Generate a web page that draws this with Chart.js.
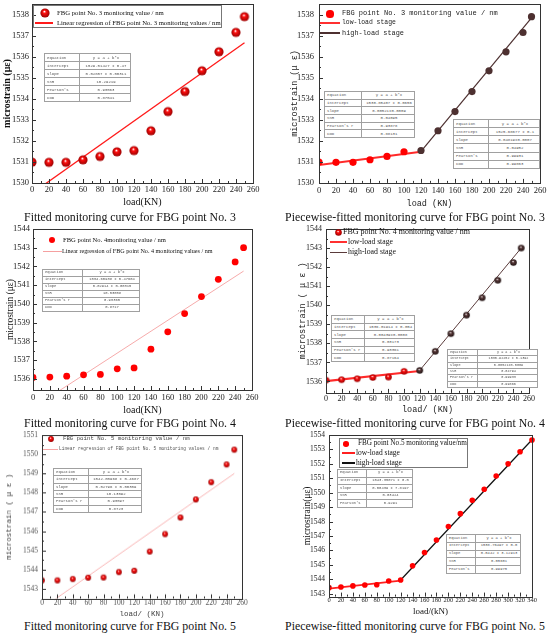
<!DOCTYPE html>
<html>
<head>
<meta charset="utf-8">
<script src="https://cdn.jsdelivr.net/npm/chart.js@4.4.1/dist/chart.umd.min.js"></script>
<style>
  body { margin: 0; width: 550px; height: 638px; position: relative; overflow: hidden; background: #fff; }
  canvas { position: absolute; }
  .lab { position: absolute; white-space: nowrap; line-height: 1; transform: translateY(-50%); }
  .cap { position: absolute; white-space: nowrap; line-height: 1; transform: translate(-50%, -50%);
         font-family: "Liberation Serif", serif; color: #111; font-size: 12.5px; }
  .mk { position: absolute; }
  table.fit { position: absolute; border-collapse: collapse; table-layout: fixed; background: #fff; color: #555; }
  table.fit td { border: 1px solid #a0a0a0; padding: 0 0 0 2px; white-space: nowrap; overflow: hidden; line-height: 1; }
</style>
</head>
<body>
<canvas id="c1"></canvas>
<canvas id="c2"></canvas>
<canvas id="c3"></canvas>
<canvas id="c4"></canvas>
<canvas id="c5"></canvas>
<canvas id="c6"></canvas>
<script>
// load steps (kN)
const loadSteps = [0, 20, 40, 60, 80, 100, 120, 140, 160, 180, 200, 220, 240, 250];
const loadSteps340 = [0, 20, 40, 60, 80, 100, 120, 140, 160, 180, 200, 220, 240, 260, 280, 300, 320, 340];

const strainNo3 = [1530.99, 1530.98, 1530.98, 1531.10, 1531.26, 1531.48, 1531.54, 1532.48, 1533.39, 1534.34, 1535.33, 1536.23, 1537.15, 1537.90];
const strainNo4 = [1536.07, 1536.09, 1536.14, 1536.21, 1536.23, 1536.53, 1536.58, 1537.58, 1538.51, 1539.48, 1540.39, 1541.31, 1542.24, 1543.00];
const strainNo5 = [1543.44, 1543.44, 1543.51, 1543.58, 1543.59, 1543.87, 1543.94, 1544.94, 1545.85, 1546.71, 1547.65, 1548.55, 1549.47, 1550.24];
const strainNo5Full = [1543.42, 1543.47, 1543.54, 1543.60, 1543.62, 1543.88, 1543.95, 1544.93, 1545.86, 1546.72, 1547.66, 1548.55, 1549.48, 1550.24, 1551.16, 1552.00, 1552.84, 1553.65];

// fitted lines (end points)
const fitNo3X = [0, 250], fitNo3Y = [1529.51, 1536.66];
const lowNo3X = [0, 120], lowNo3Y = [1530.85, 1531.48];
const highNo3X = [120, 250], highNo3Y = [1531.50, 1537.85];
const fitNo4X = [0, 250], fitNo4Y = [1534.45, 1541.75];
const lowNo4X = [0, 120], lowNo4Y = [1536.02, 1536.55];
const highNo4X = [120, 250], highNo4Y = [1536.58, 1543.00];
const fitNo5X = [0, 250], fitNo5Y = [1541.98, 1549.00];
const lowNo5X = [0, 120], lowNo5Y = [1543.35, 1543.90];
const highNo5X = [120, 340], highNo5Y = [1543.95, 1553.67];

// fit tables
const tableNo3 = [["equation", "y = a + b*x"], ["intercept", "1529.51427 ± 0.47"], ["slope", "0.02857 ± 0.00311"], ["SSR", "10.29219"], ["Pearson's", "0.93563"], ["COD", "0.87541"]];
const tableNo3Low = [["equation", "y = a + b*x"], ["intercept", "1530.85407 ± 0.0656"], ["slope", "0.00521±0.0009"], ["SSR", "0.04095"], ["Pearson's r", "0.93878"], ["COD", "0.88131"]];
const tableNo3High = [["equation", "y = a + b*x"], ["intercept", "1525.68677 ± 0.1"], ["slope", "0.04819±0.0007"], ["SSR", "0.04952"], ["Pearson's", "0.99931"], ["COD", "0.99863"]];
const tableNo4 = [["equation", "y = a + b*x"], ["intercept", "1534.60938 ± 0.47604"], ["slope", "0.02914 ± 0.00315"], ["SSR", "10.53058"], ["Pearson's r", "0.93365"], ["COD", "0.8717"]];
const tableNo4Low = [["equation", "y = a + b*x"], ["intercept", "1536.01914 ± 0.054"], ["slope", "0.00439±0.0008"], ["SSR", "0.03173"], ["Pearson's r", "0.93361"], ["COD", "0.87164"]];
const tableNo4High = [["equation", "y = a + b*x"], ["intercept", "1530.92252 ± 0.1392"], ["slope", "0.00521±0.0009"], ["SSR", "0.04794"], ["Pearson's r", "0.99933"], ["COD", "0.99866"]];
const tableNo5 = [["equation", "y = a + b*x"], ["intercept", "1542.00968 ± 0.4687"], ["slope", "0.02796 ± 0.00309"], ["SSR", "10.13092"], ["Pearson's r", "0.93597"], ["COD", "0.8723"]];
const tableNo5Low = [["Equation", "y = a + b*x"], ["Intercept", "1543.35071 ± 0.0"], ["Slope", "0.00439 ± 7.8197"], ["SSR", "0.03424"], ["Pearson's", "0.9291"]];
const tableNo5High = [["Equation", "y = a + b*x"], ["Intercept", "1538.76497 ± 0.0"], ["Slope", "0.0442 ± 3.12913"], ["SSR", "0.05601"], ["Pearson's", "0.99975"]];

const SERIF = '"Liberation Serif", serif';
const MONO = '"Liberation Mono", monospace';
const RED = '#ff0000';
const BROWN = '#4d3030';

function sphere(r, base, dark) {
  const c = document.createElement('canvas');
  const s = Math.ceil(r * 2) + 2;
  c.width = s; c.height = s;
  const g = c.getContext('2d');
  const m = s / 2;
  const grad = g.createRadialGradient(m - r * 0.15, m - r * 0.35, r * 0.05, m, m, r);
  grad.addColorStop(0, '#ffffff');
  grad.addColorStop(0.3, base);
  grad.addColorStop(1, dark);
  g.fillStyle = grad;
  g.beginPath(); g.arc(m, m, r, 0, Math.PI * 2); g.fill();
  return c;
}

const pts = (xs, ys) => xs.map((x, i) => ({ x: x, y: ys[i] }));

// frame around the plot area with inward ticks
const frameTicks = {
  id: 'frameTicks',
  afterDraw(chart) {
    const { ctx, chartArea: a, scales: { x, y } } = chart;
    ctx.save();
    ctx.strokeStyle = '#333';
    ctx.lineWidth = 1;
    ctx.strokeRect(Math.round(a.left) + 0.5, Math.round(a.top) + 0.5, Math.round(a.right - a.left), Math.round(a.bottom - a.top));
    ctx.beginPath();
    const xt = x.ticks.map(t => t.value);
    xt.forEach((v, i) => {
      const px = Math.round(x.getPixelForValue(v)) + 0.5;
      ctx.moveTo(px, a.bottom); ctx.lineTo(px, a.bottom - 4);
      if (i < xt.length - 1) {
        const mx = Math.round(x.getPixelForValue((v + xt[i + 1]) / 2)) + 0.5;
        ctx.moveTo(mx, a.bottom); ctx.lineTo(mx, a.bottom - 2);
      }
    });
    const yt = y.ticks.map(t => t.value);
    yt.forEach((v, i) => {
      const py = Math.round(y.getPixelForValue(v)) + 0.5;
      ctx.moveTo(a.left, py); ctx.lineTo(a.left + 4, py);
      if (i < yt.length - 1) {
        const my = Math.round(y.getPixelForValue((v + yt[i + 1]) / 2)) + 0.5;
        ctx.moveTo(a.left, my); ctx.lineTo(a.left + 2, my);
      }
    });
    ctx.stroke();
    ctx.restore();
  }
};

function makePanel(p) {
  const canvas = document.getElementById(p.id);
  const cy = p.T - 10;
  const cw = Math.min(p.R + 10, 550) - p.cx;
  const xTitleLH = p.xTitleFont.size * 1.2;
  const xAxisH = p.xTitleY + xTitleLH / 2 - p.B;
  const ch = p.B + xAxisH - cy;
  canvas.width = cw; canvas.height = ch;
  canvas.style.left = p.cx + 'px'; canvas.style.top = cy + 'px';
  canvas.style.width = cw + 'px'; canvas.style.height = ch + 'px';
  const yTitlePad = p.yTitleX - p.cx - p.yTitleFont.size * 0.6;
  const xTickPad = p.xTickY - p.B - p.xTickFont.size * 0.6;

  new Chart(canvas, {
    type: 'scatter',
    data: { datasets: p.datasets },
    options: {
      responsive: false,
      animation: false,
      devicePixelRatio: 1,
      layout: { padding: { top: p.T - cy, right: p.cx + cw - p.R, left: 0, bottom: 0 } },
      plugins: { legend: { display: false }, tooltip: { enabled: false } },
      scales: {
        x: {
          type: 'linear', min: 0, max: p.xMax,
          grid: { display: false, drawTicks: false }, border: { display: false },
          ticks: { stepSize: 20, includeBounds: false, autoSkip: false, maxRotation: 0,
                   padding: xTickPad, color: p.tickColor, font: Object.assign({ lineHeight: 1.2 }, p.xTickFont) },
          title: { display: true, text: p.xTitle, color: p.titleColor, padding: 0,
                   font: Object.assign({ lineHeight: 1.2 }, p.xTitleFont) },
          afterFit: s => { s.height = xAxisH; }
        },
        y: {
          min: p.yMin, max: p.yMax,
          grid: { display: false, drawTicks: false }, border: { display: false },
          ticks: { stepSize: 1, includeBounds: false, padding: p.yTickPad, color: p.tickColor,
                   callback: v => String(v),
                   font: Object.assign({ lineHeight: 1.2 }, p.yTickFont) },
          title: { display: true, text: p.yTitle, color: p.titleColor, padding: { top: yTitlePad, bottom: 0 },
                   font: Object.assign({ lineHeight: 1.2 }, p.yTitleFont) },
          afterFit: s => { s.width = p.L - p.cx; }
        }
      }
    },
    plugins: [frameTicks]
  });
}

const clipLeft = { left: 0, top: false, right: false, bottom: false };
const redBall = r => sphere(r, '#ff1010', '#9a0000');
const brownBall = r => sphere(r, '#5a3a3a', '#1e1010');

const panels = [
  { id: 'c1', cx: 0, L: 32, R: 253, T: 4, B: 183, xMax: 260, yMin: 1530, yMax: 1538.5,
    yTitle: 'microstrain (με)', yTitleFont: { family: SERIF, size: 10, weight: 'bold' }, yTitleX: 7,
    yTickFont: { family: SERIF, size: 8.5 }, yTickPad: 3,
    xTitle: 'load(KN)', xTitleFont: { family: SERIF, size: 10 }, xTitleY: 202,
    xTickFont: { family: SERIF, size: 8.5 }, xTickY: 190, tickColor: '#222', titleColor: '#111',
    datasets: [
      { data: pts(loadSteps, strainNo3), pointStyle: redBall(4.6), clip: clipLeft },
      { data: pts(fitNo3X, fitNo3Y), showLine: true, borderColor: '#ff1a1a', borderWidth: 1.3, pointRadius: 0, clip: 0 }
    ] },
  { id: 'c2', cx: 275, L: 319, R: 540, T: 4, B: 183, xMax: 260, yMin: 1530, yMax: 1538.5,
    yTitle: 'microstrain (μ ε)', yTitleFont: { family: MONO, size: 8.5 }, yTitleX: 295,
    yTickFont: { family: SERIF, size: 8.5 }, yTickPad: 5,
    xTitle: 'load (KN)', xTitleFont: { family: MONO, size: 8.5 }, xTitleY: 204,
    xTickFont: { family: SERIF, size: 8.5 }, xTickY: 191, tickColor: '#222', titleColor: '#222',
    datasets: [
      { data: pts(loadSteps, strainNo3), pointRadius: 3.6, borderWidth: 0,
        backgroundColor: c => c.dataIndex >= 6 ? BROWN : RED, clip: clipLeft },
      { data: pts(lowNo3X, lowNo3Y), showLine: true, borderColor: '#ff2a2a', borderWidth: 2.2, pointRadius: 0, clip: 0 },
      { data: pts(highNo3X, highNo3Y), showLine: true, borderColor: BROWN, borderWidth: 1.2, pointRadius: 0, clip: 0 }
    ] },
  { id: 'c3', cx: 0, L: 33, R: 252, T: 229, B: 390, xMax: 260, yMin: 1535.4, yMax: 1544,
    yTitle: 'microstrain (με)', yTitleFont: { family: SERIF, size: 9.5 }, yTitleX: 10,
    yTickFont: { family: SERIF, size: 8.5 }, yTickPad: 3,
    xTitle: 'load(KN)', xTitleFont: { family: SERIF, size: 10 }, xTitleY: 410,
    xTickFont: { family: SERIF, size: 8.5 }, xTickY: 398, tickColor: '#222', titleColor: '#111',
    datasets: [
      { data: pts(loadSteps, strainNo4), pointRadius: 3.4, borderWidth: 0, backgroundColor: RED, clip: clipLeft },
      { data: pts(fitNo4X, fitNo4Y), showLine: true, borderColor: '#f5a0a0', borderWidth: 0.9, pointRadius: 0, clip: 0 }
    ] },
  { id: 'c4', cx: 275, L: 326, R: 529, T: 229, B: 393, xMax: 260, yMin: 1535.4, yMax: 1544,
    yTitle: 'microstrain ( μ ε )', yTitleFont: { family: MONO, size: 8.5 }, yTitleX: 303,
    yTickFont: { family: SERIF, size: 8 }, yTickPad: 4,
    xTitle: 'load/ (KN)', xTitleFont: { family: MONO, size: 8.5 }, xTitleY: 410,
    xTickFont: { family: SERIF, size: 8 }, xTickY: 399, tickColor: '#222', titleColor: '#222',
    datasets: [
      { data: pts(loadSteps, strainNo4), pointStyle: c => c.dataIndex >= 6 ? brownBall(3.3) : redBall(3.3), clip: clipLeft },
      { data: pts(lowNo4X, lowNo4Y), showLine: true, borderColor: '#ff2a2a', borderWidth: 2.2, pointRadius: 0, clip: 0 },
      { data: pts(highNo4X, highNo4Y), showLine: true, borderColor: '#5a3b3b', borderWidth: 1, pointRadius: 0, clip: 0 }
    ] },
  { id: 'c5', cx: 0, L: 42, R: 242, T: 435, B: 598, xMax: 260, yMin: 1542.5, yMax: 1551,
    yTitle: 'microstrain ( μ ε )', yTitleFont: { family: MONO, size: 7.5 }, yTitleX: 9,
    yTickFont: { family: SERIF, size: 7.5 }, yTickPad: 4,
    xTitle: 'load/ (KN)', xTitleFont: { family: MONO, size: 7.5 }, xTitleY: 614,
    xTickFont: { family: SERIF, size: 7.5 }, xTickY: 603, tickColor: '#555', titleColor: '#444',
    datasets: [
      { data: pts(loadSteps, strainNo5), pointStyle: redBall(2.9), clip: clipLeft },
      { data: pts(fitNo5X, fitNo5Y), showLine: true, borderColor: '#f7a5a5', borderWidth: 0.8, pointRadius: 0, clip: 0 }
    ] },
  { id: 'c6', cx: 275, L: 329, R: 532, T: 435, B: 597, xMax: 340, yMin: 1542.8, yMax: 1554,
    yTitle: 'microstrain(με)', yTitleFont: { family: SERIF, size: 9.5 }, yTitleX: 307,
    yTickFont: { family: SERIF, size: 7.5 }, yTickPad: 4,
    xTitle: 'load/(kN)', xTitleFont: { family: SERIF, size: 9 }, xTitleY: 612,
    xTickFont: { family: SERIF, size: 6.5 }, xTickY: 601, tickColor: '#222', titleColor: '#111',
    datasets: [
      { data: pts(loadSteps340, strainNo5Full), pointRadius: 2.8, borderWidth: 0, backgroundColor: RED, clip: clipLeft },
      { data: pts(lowNo5X, lowNo5Y), showLine: true, borderColor: '#ff2020', borderWidth: 1.8, pointRadius: 0, clip: 0 },
      { data: pts(highNo5X, highNo5Y), showLine: true, borderColor: '#111', borderWidth: 1.2, pointRadius: 0, clip: 0 }
    ] }
];
panels.forEach(makePanel);

// ---- overlays: legends, fit tables, captions ----
function addText(txt, x, yc, width, family, size, color, cls) {
  const d = document.createElement('div');
  d.className = cls || 'lab';
  d.textContent = txt;
  d.style.fontFamily = family;
  d.style.fontSize = size + 'px';
  d.style.color = color || '#111';
  d.style.left = x + 'px';
  d.style.top = yc + 'px';
  document.body.appendChild(d);
  if (width) {
    const w = d.getBoundingClientRect().width;
    d.style.fontSize = (size * width / w) + 'px';
  }
  return d;
}
function addDot(x, y, r, color) {
  const d = document.createElement('div');
  d.className = 'mk';
  Object.assign(d.style, { left: (x - r) + 'px', top: (y - r) + 'px', width: 2 * r + 'px', height: 2 * r + 'px',
    borderRadius: '50%', background: color });
  document.body.appendChild(d);
}
function addBall(x, y, r) {
  const c = redBall(r);
  c.style.left = (x - c.width / 2) + 'px';
  c.style.top = (y - c.height / 2) + 'px';
  document.body.appendChild(c);
}
function addLine(x1, x2, y, w, color) {
  const d = document.createElement('div');
  d.className = 'mk';
  Object.assign(d.style, { left: x1 + 'px', top: (y - w / 2) + 'px', width: (x2 - x1) + 'px', height: w + 'px', background: color });
  document.body.appendChild(d);
}
function addBox(x1, y1, x2, y2) {
  const d = document.createElement('div');
  d.className = 'mk';
  Object.assign(d.style, { left: x1 + 'px', top: y1 + 'px', width: (x2 - x1) + 'px', height: (y2 - y1) + 'px',
    border: '1px solid #777', boxSizing: 'border-box' });
  document.body.appendChild(d);
}
function addTable(rows, x, y, w, h, split, fs) {
  const t = document.createElement('table');
  t.className = 'fit';
  Object.assign(t.style, { left: x + 'px', top: y + 'px', width: w + 'px', height: h + 'px',
    fontSize: fs + 'px', fontFamily: MONO });
  const rh = h / rows.length;
  rows.forEach(r => {
    const tr = t.insertRow();
    tr.style.height = rh + 'px';
    const a = tr.insertCell(); a.textContent = r[0]; a.style.width = (split - x) + 'px';
    const b = tr.insertCell(); b.textContent = r[1]; b.style.textAlign = 'center';
  });
  document.body.appendChild(t);
}

// panel 1
addBox(33, 5, 222, 28);
addBall(45, 13, 4.6);
addText('FBG point No. 3 monitoring value / nm', 57, 13, 107, SERIF, 8);
addLine(35, 53, 23, 1.3, '#ff1a1a');
addText('Linear regression of FBG point No. 3 monitoring values / nm', 57, 23, 164, SERIF, 8);
addTable(tableNo3, 44, 53, 87, 48, 76, 4);

// panel 2
addDot(330, 14, 3.6, RED);
addText('FBG point No. 3 monitoring value / nm', 342, 14, 156, MONO, 7, '#222');
addLine(320, 340, 23, 2.4, '#ff3030');
addText('low-load stage', 342, 23, 54, MONO, 7, '#222');
addLine(320, 340, 33, 1.2, BROWN);
addText('high-load stage', 342, 33, 62, MONO, 7, '#222');
addTable(tableNo3Low, 324, 91, 91, 46, 358, 4);
addTable(tableNo3High, 453, 119, 87, 49, 485, 4);

// panel 3
addDot(52, 240, 3.4, RED);
addText('FBG point No. 4monitoring value / nm', 63, 240, 103, SERIF, 7);
addLine(43, 62, 251, 0.9, '#f5a0a0');
addText('Linear regression of FBG point No. 4 monitoring values / nm', 62, 251, 151, SERIF, 7);
addTable(tableNo4, 42, 269, 98, 42, 79, 3.8);

// panel 4
addBall(338, 232, 3.3);
addText('FBG point No. 4 monitoring value / nm', 343, 232, 127, SERIF, 7.5);
addLine(330, 347, 242, 2.4, '#ff3030');
addText('low-load stage', 348, 242, 45, SERIF, 7.5);
addLine(330, 347, 252, 1, '#5a3b3b');
addText('high-load stage', 348, 252, 48, SERIF, 7.5);
addTable(tableNo4Low, 331, 315, 84, 46, 361, 4);
addTable(tableNo4High, 447, 349, 91, 38, 474, 3.5);

// panel 5
addBall(51, 439, 2.9);
addText('FBG point No. 5 monitoring value / nm', 63, 439, 127, MONO, 6, '#444');
addLine(43, 58, 449, 0.8, '#f7a5a5');
addText('Linear regression of FBG point No. 5 monitoring values / nm', 59, 449, 160, MONO, 5, '#555');
addTable(tableNo5, 53, 468, 89, 44, 85, 4);

// panel 6
addBox(339, 438, 468, 468);
addDot(346, 444, 2.8, RED);
addText('FBG point No.5 monitoring value/nm', 358, 444, 109, SERIF, 7.5);
addLine(342, 355, 453, 1.8, '#ff2020');
addText('low-load stage', 356, 453, 44, SERIF, 7.5);
addLine(342, 355, 463, 1.2, '#111');
addText('high-load stage', 356, 463, 46, SERIF, 7.5);
addTable(tableNo5Low, 337, 469, 76, 38, 363, 3.8);
addTable(tableNo5High, 446, 534, 75, 39, 472, 3.8);

// captions
addText('Fitted monitoring curve for FBG point No. 3', 130, 218, 212, SERIF, 12.5, '#111', 'cap');
addText('Piecewise-fitted monitoring curve for FBG point No. 3', 415, 218, 260, SERIF, 12.5, '#111', 'cap');
addText('Fitted monitoring curve for FBG point No. 4', 130, 424, 212, SERIF, 12.5, '#111', 'cap');
addText('Piecewise-fitted monitoring curve for FBG point No. 4', 415, 424, 260, SERIF, 12.5, '#111', 'cap');
addText('Fitted monitoring curve for FBG point No. 5', 130, 627, 212, SERIF, 12.5, '#111', 'cap');
addText('Piecewise-fitted monitoring curve for FBG point No. 5', 415, 627, 260, SERIF, 12.5, '#111', 'cap');
</script>
</body>
</html>
